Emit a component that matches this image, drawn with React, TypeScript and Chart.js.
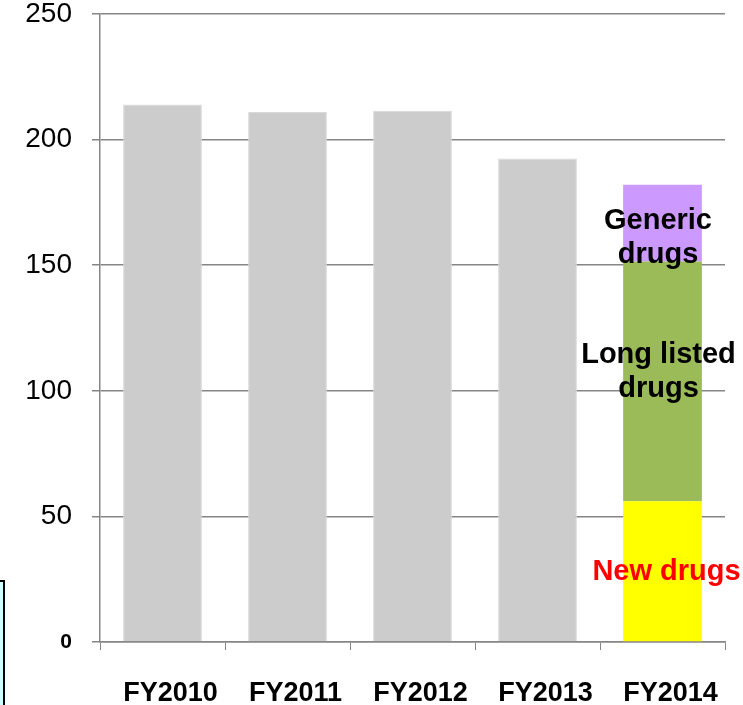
import React, { useEffect, useRef } from "react";
import { Chart, registerables } from "chart.js";

Chart.register(...registerables);

const categories = ["FY2010", "FY2011", "FY2012", "FY2013", "FY2014"];
const totalValues = [214, 211, 211.5, 192.5, null];
const newDrugs = [null, null, null, null, 56];
const longListed = [null, null, null, null, 95.5];
const genericDrugs = [null, null, null, null, 30.5];
const yTicks = [0, 50, 100, 150, 200, 250];
const segmentLabels = [["New drugs"], ["Long listed", "drugs"], ["Generic", "drugs"]];

const FONT = "'Liberation Sans', Arial, Helvetica, sans-serif";
const GRID = "#868686";

const segmentStyle = [
  { color: "#FF0000", dx: 4, dy: 1 },
  { color: "#000000", dx: -4, dy: -9 },
  { color: "#000000", dx: -4.5, dy: 15 },
];

const segmentLabelPlugin = {
  id: "segmentLabels",
  afterDatasetsDraw(chart: any) {
    const ctx = chart.ctx;
    ctx.save();
    ctx.font = `bold 29px ${FONT}`;
    ctx.textAlign = "center";
    ctx.textBaseline = "middle";
    segmentLabels.forEach((lines, i) => {
      const meta = chart.getDatasetMeta(i + 1);
      const el = meta.data[4];
      if (!el) return;
      const st = segmentStyle[i];
      const cx = el.x + st.dx;
      const cy = (el.y + el.base) / 2 + st.dy;
      const lh = 34;
      ctx.fillStyle = st.color;
      lines.forEach((t, j) => {
        const y = cy + (j - (lines.length - 1) / 2) * lh;
        ctx.fillText(t, cx, y);
      });
    });
    ctx.restore();
  },
};

export default function App() {
  const ref = useRef<HTMLCanvasElement | null>(null);

  useEffect(() => {
    if (!ref.current) return;
    const chart = new Chart(ref.current, {
      type: "bar",
      data: {
        labels: categories,
        datasets: [
          { label: "Total", data: totalValues as any, backgroundColor: "#CCCCCC", borderColor: "#D9D9D9", borderWidth: 1 },
          { label: "New drugs", data: newDrugs as any, backgroundColor: "#FFFF00" },
          { label: "Long listed drugs", data: longListed as any, backgroundColor: "#9BBB59" },
          { label: "Generic drugs", data: genericDrugs as any, backgroundColor: "#CC99FF" },
        ],
      },
      options: {
        animation: false,
        responsive: false,
        devicePixelRatio: 1,
        layout: { padding: { top: 14, right: 18, left: 0, bottom: 0 } },
        plugins: { legend: { display: false }, tooltip: { enabled: false } },
        datasets: { bar: { categoryPercentage: 1, barPercentage: 0.63 } },
        scales: {
          x: {
            stacked: true,
            grid: { drawOnChartArea: false, drawTicks: true, tickLength: 8, color: GRID, offset: true },
            border: { display: true, color: GRID, width: 1.5 },
            ticks: {
              color: "#000000",
              font: { family: FONT, size: 27, weight: "bold" },
              padding: 27,
              labelOffset: 8,
              maxRotation: 0,
              autoSkip: false,
            },
            afterFit: (s: any) => { s.height = 63; s.paddingLeft = 0; s.paddingRight = 0; },
          },
          y: {
            stacked: true,
            min: 0,
            max: 250,
            afterBuildTicks: (s: any) => { s.ticks = yTicks.map((v) => ({ value: v })); },
            grid: { color: GRID, lineWidth: 1.5, tickLength: 8 },
            border: { display: true, color: GRID, width: 1.5 },
            ticks: {
              color: "#000000",
              padding: 20,
              font: (c: any) =>
                c.tick && c.tick.value === 0
                  ? { family: FONT, size: 21, weight: "bold" }
                  : { family: FONT, size: 28, weight: "normal" },
            },
            afterFit: (s: any) => { s.width = 100; s.paddingTop = 0; s.paddingBottom = 0; },
          },
        },
      },
      plugins: [segmentLabelPlugin],
    });
    return () => chart.destroy();
  }, []);

  return (
    <div style={{ position: "fixed", left: 0, top: 0, width: 743, height: 705, overflow: "hidden", background: "#FFFFFF" }}>
      <canvas ref={ref} width={743} height={705} style={{ position: "absolute", left: 0, top: 0 }} />
      <div
        style={{
          position: "absolute",
          left: -100,
          top: 580,
          width: 105,
          height: 200,
          boxSizing: "border-box",
          border: "2px solid #000000",
          background: "#CCFFFF",
        }}
      />
    </div>
  );
}
